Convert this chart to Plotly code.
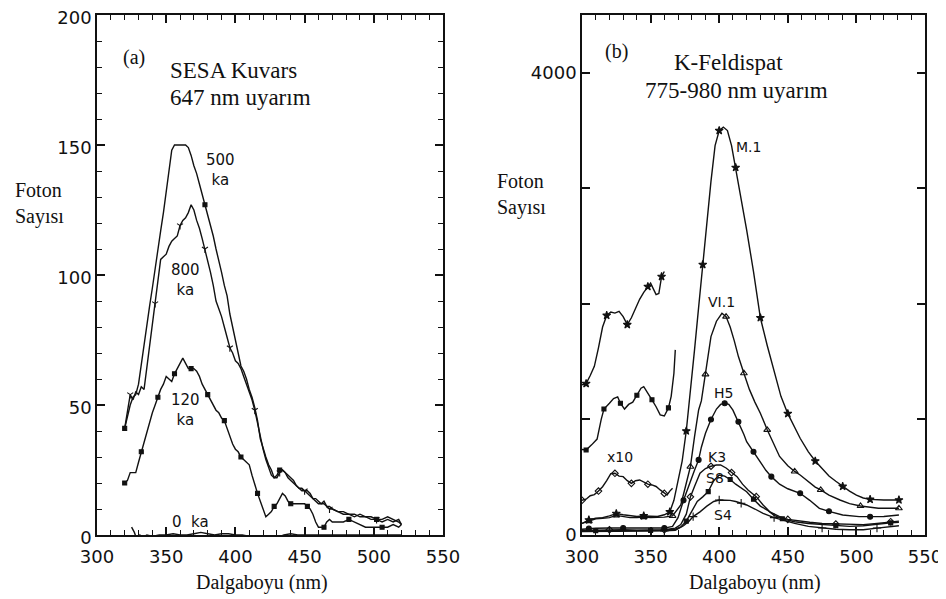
import plotly.graph_objects as go

# ---------------- Panel (a): SESA Kuvars ----------------
A500_X = [320, 322, 324, 326, 328, 330, 332, 334, 336, 338, 340, 342, 344, 346, 348, 350, 352, 354, 356, 360,
          364, 366, 368, 370, 372, 374, 376, 378, 380, 382, 384, 386, 388, 390, 392, 394, 396, 398, 400, 402,
          404, 406, 408, 410, 412, 414, 416, 418, 420, 422, 424, 426, 428, 430, 432, 434, 436, 438, 440, 442,
          444, 446, 448, 450, 452, 454, 456, 458, 460, 462, 464, 466, 468, 470, 474, 478, 482, 486, 490, 494,
          498, 502, 506, 510, 514, 518, 520]
A500_Y = [41, 46, 50, 53, 54, 58, 66, 74, 80, 88, 95, 103, 110, 117, 124, 132, 141, 148, 150, 150,
          150, 149, 146, 142, 139, 135, 131, 127, 124, 120, 115, 110, 106, 101, 96, 92, 85, 80, 74, 70,
          65, 63, 60, 56, 53, 49, 44, 37, 33, 30, 27, 25, 22, 23, 25, 25, 24, 23, 22, 21,
          19, 18, 18, 17, 17, 16, 14, 14, 13, 12, 12, 11, 11, 10, 9, 8, 8, 8, 7, 7,
          7, 6, 6, 7, 6, 5, 4]

A800_X = [320, 322, 324, 326, 328, 330, 332, 334, 336, 338, 340, 342, 344, 346, 348, 350, 352, 354, 356, 358,
          360, 362, 364, 366, 368, 370, 372, 374, 376, 378, 380, 382, 384, 386, 388, 390, 392, 394, 396, 398,
          400, 402, 404, 406, 408, 410, 412, 414, 416, 418, 420, 422, 424, 426, 428, 430, 432, 434, 436, 438,
          440, 442, 444, 446, 448, 450, 452, 454, 456, 458, 460, 462, 464, 466, 468, 470, 474, 478, 482, 486,
          490, 494, 498, 502, 506, 510, 514, 518, 520]
A800_Y = [41, 48, 54, 52, 55, 54, 57, 56, 64, 72, 80, 89, 98, 106, 107, 108, 111, 113, 114, 115,
          119, 121, 122, 124, 127, 125, 121, 118, 114, 110, 105, 101, 96, 90, 87, 84, 80, 76, 72, 70,
          67, 66, 64, 61, 58, 55, 52, 48, 43, 37, 33, 29, 26, 23, 22, 22, 24, 25, 24, 22,
          21, 20, 19, 18, 17, 17, 16, 15, 14, 13, 12, 12, 13, 11, 10, 10, 9, 9, 8, 7,
          8, 7, 6, 6, 5, 6, 5, 6, 4]

A120_X = [320, 322, 324, 326, 328, 330, 332, 334, 336, 338, 340, 342, 344, 346, 348, 350, 352, 354, 356, 358,
          360, 362, 364, 366, 368, 370, 372, 374, 376, 378, 380, 382, 384, 386, 388, 390, 392, 394, 396, 398,
          400, 402, 404, 406, 408, 410, 412, 414, 416, 418, 420, 422, 424, 426, 428, 430, 432, 434, 436, 438,
          440, 442, 444, 446, 448, 450, 452, 454, 456, 458, 460, 462, 464, 466, 468, 470, 474, 478, 482, 486,
          490, 494, 498, 502, 506, 510, 514, 518, 520]
A120_Y = [20, 21, 24, 24, 24, 28, 32, 36, 40, 43, 47, 50, 53, 56, 58, 61, 60, 59, 62, 64,
          66, 68, 66, 64, 64, 64, 63, 61, 58, 56, 54, 52, 50, 48, 47, 45, 44, 41, 38, 35,
          33, 32, 30, 29, 28, 27, 23, 19, 16, 13, 10, 7, 8, 9, 11, 12, 14, 16, 15, 13,
          12, 12, 12, 12, 12, 12, 11, 10, 8, 5, 3, 3, 3, 5, 6, 5, 5, 5, 6, 5,
          4, 3, 3, 3, 3, 3, 4, 3, 4]

A0_X = [325, 327, 329, 331, 333, 336, 340, 345, 350, 355, 360, 365, 370, 375, 380, 385, 390, 395, 400, 405,
        410, 415, 418, 421, 424, 427, 430, 435, 440, 445, 450, 460, 470, 480, 490, 500, 510, 520]
A0_Y = [3, 1, -2, 0, -1, 0, -0.5, 0, 0, 0.5, 0, 0, 0.5, 1, 0.5, 0, 0.5, 0.5, 0, 0,
        -0.5, -1, -2, -3.5, -3, -1.5, -1, 0, 0.5, 0, 0, 0, 0, 0, 0, 0, 0, 0]

# ---------------- Panel (b): K-Feldispat ----------------
M1_X = [300, 305, 310, 315, 320, 325, 330, 335, 340, 345, 350, 355, 360, 364, 367, 370, 373, 376, 379, 382,
        385, 388, 391, 394, 397, 400, 403, 406, 409, 412, 416, 420, 425, 430, 435, 440, 445, 450, 455, 459,
        465, 470, 475, 480, 485, 490, 495, 500, 505, 510, 515, 520, 525, 531]
M1_Y = [100, 130, 145, 150, 165, 185, 175, 165, 160, 165, 160, 160, 175, 200, 300, 470, 640, 900, 1230, 1600,
        1970, 2340, 2720, 3060, 3370, 3500, 3530, 3500, 3370, 3180, 2900, 2640, 2280, 1880, 1640, 1410, 1200, 1050, 930, 837,
        720, 640, 575, 510, 465, 420, 380, 345, 320, 308, 303, 303, 303, 303]

VI1_X = [300, 305, 310, 315, 320, 325, 330, 335, 340, 345, 350, 355, 360, 366, 369, 372, 375, 379, 382, 385,
         387, 390, 394, 398, 402, 405, 408, 411, 414, 418, 422, 426, 430, 435, 440, 444, 450, 455, 459, 465,
         470, 474, 480, 488, 495, 503, 510, 516, 523, 531]
VI1_Y = [100, 120, 140, 145, 150, 170, 160, 150, 150, 155, 150, 150, 155, 165, 210, 260, 400, 591, 850, 1082,
         1160, 1390, 1717, 1850, 1919, 1890, 1800, 1680, 1544, 1400, 1260, 1150, 1054, 910, 780, 680, 600, 550, 519, 460,
         415, 390, 345, 303, 272, 251, 238, 231, 231, 231]

H5_X = [300, 305, 310, 320, 330, 340, 350, 360, 366, 370, 374, 378, 382, 385, 387, 390, 394, 398, 401, 404,
        407, 410, 414, 418, 420, 425, 430, 434, 438, 444, 450, 459, 466, 473, 480, 490, 502, 510, 520, 531]
H5_Y = [50, 55, 58, 60, 60, 60, 58, 60, 75, 150, 300, 440, 560, 650, 760, 880, 1000, 1090, 1130, 1140,
        1130, 1080, 980, 870, 808, 720, 640, 560, 505, 440, 400, 361, 300, 231, 205, 173, 159, 158, 160, 173]

K3_X = [300, 310, 320, 330, 340, 350, 360, 368, 372, 376, 379, 382, 386, 390, 394, 398, 401, 405, 409, 413,
        417, 421, 427, 432, 437, 444, 450, 458, 466, 475, 485, 495, 505, 515, 525, 531]
K3_Y = [40, 42, 45, 45, 42, 42, 45, 60, 90, 180, 330, 420, 534, 575, 595, 606, 606, 580, 540, 505,
        440, 390, 332, 260, 200, 159, 135, 120, 110, 100, 95, 90, 90, 100, 115, 120]

S8_X = [300, 310, 320, 330, 340, 350, 360, 368, 372, 376, 380, 384, 388, 392, 396, 400, 404, 408, 412, 416,
        420, 425, 430, 435, 440, 446, 455, 465, 475, 485, 495, 505, 515, 525, 531]
S8_Y = [35, 38, 40, 40, 40, 40, 42, 50, 70, 120, 200, 290, 330, 375, 470, 519, 510, 480, 440, 410,
        375, 310, 250, 216, 170, 140, 115, 100, 90, 80, 75, 80, 95, 105, 110]

S4_X = [300, 310, 320, 330, 340, 350, 360, 368, 374, 378, 381, 386, 391, 396, 400, 404, 408, 412, 416, 420,
        426, 432, 440, 446, 455, 465, 475, 485, 495, 505, 515, 525, 531]
S4_Y = [30, 32, 35, 35, 35, 35, 36, 40, 80, 120, 159, 200, 250, 290, 303, 303, 300, 290, 275, 260,
        225, 188, 150, 130, 100, 75, 60, 50, 45, 45, 60, 75, 80]

# x10 magnified traces (short-wavelength region)
X10A_X = [300, 303, 306, 309, 312, 315, 318, 321, 324, 327, 330, 333, 336, 339, 342, 345, 348, 350, 352, 354, 356, 358, 360]
X10A_Y = [1300, 1310, 1380, 1460, 1620, 1800, 1900, 1930, 1920, 1935, 1890, 1820, 1880, 1960, 2040, 2100, 2150, 2180, 2130, 2080, 2090, 2236, 2280]
X10B_X = [300, 303, 307, 311, 314, 316, 320, 323, 326, 328, 331, 334, 337, 340, 343, 345, 348, 351, 354, 357, 360, 363, 365, 367, 368]
X10B_Y = [740, 736, 780, 830, 1000, 1090, 1140, 1180, 1195, 1140, 1090, 1130, 1150, 1210, 1270, 1284, 1230, 1170, 1110, 1040, 1030, 1100, 1200, 1400, 1602]
X10C_X = [300, 303, 306, 309, 312, 315, 318, 321, 324, 327, 330, 333, 336, 339, 342, 345, 348, 351, 354, 357, 360, 362, 364, 366]
X10C_Y = [300, 310, 340, 350, 380, 418, 470, 530, 534, 510, 505, 470, 447, 470, 476, 460, 440, 433, 420, 390, 360, 346, 380, 404]

# axis ticks
X_TICKS = [300, 350, 400, 450, 500, 550]
A_Y_TICKS = [0, 50, 100, 150, 200]
B_Y_TICKS = [0, 1000, 2000, 3000, 4000]
B_Y_TEXT = ["0", "", "", "", "4000"]

BLACK = "#111111"
# the page body has an 8px margin: the figure starts 8px in and fills the rest of the 946x599 window
OFF = 8
W, H = 946 - OFF, 599 - OFF


def px_x(X):
    return (X - OFF) / W


def px_y(Y):
    return (H - (Y - OFF)) / H


fig = go.Figure()


def curve(x, y, xa, ya, symbol, step, msize=6, start=0):
    fig.add_trace(go.Scatter(x=x, y=y, xaxis=xa, yaxis=ya, mode="lines",
                             line=dict(color=BLACK, width=1.4), showlegend=False, hoverinfo="skip"))
    if symbol:
        fig.add_trace(go.Scatter(x=x[start::step], y=y[start::step], xaxis=xa, yaxis=ya, mode="markers",
                                 marker=dict(symbol=symbol, size=msize, color=BLACK,
                                             line=dict(color=BLACK, width=1.1)),
                                 showlegend=False, hoverinfo="skip"))


# panel (a)
curve(A500_X, A500_Y, "x", "y", "square", 27, 4)
curve(A800_X, A800_Y, "x", "y", "y-down-open", 9, 5, 2)
curve(A120_X, A120_Y, "x", "y", "square", 6, 4)
curve(A0_X, A0_Y, "x", "y", None, 1)

# panel (b)
curve(M1_X, M1_Y, "x2", "y2", "star", 4, 6, 1)
curve(VI1_X, VI1_Y, "x2", "y2", "triangle-up-open", 4, 6, 1)
curve(H5_X, H5_Y, "x2", "y2", "circle", 3, 5, 1)
curve(K3_X, K3_Y, "x2", "y2", "diamond-open", 4, 5, 2)
curve(S8_X, S8_Y, "x2", "y2", "square", 4, 4, 1)
curve(S4_X, S4_Y, "x2", "y2", "cross-thin-open", 4, 6, 2)
curve(X10A_X, X10A_Y, "x2", "y2", "star", 5, 6, 1)
curve(X10B_X, X10B_Y, "x2", "y2", "square", 4, 4, 1)
curve(X10C_X, X10C_Y, "x2", "y2", "diamond-open", 4, 5, 0)

TICKFONT = dict(family="DejaVu Sans", size=18, color=BLACK)
axis_common = dict(showline=True, linecolor=BLACK, linewidth=1.5, mirror="ticks", ticks="inside",
                   tickcolor=BLACK, tickwidth=1.5, ticklen=8, showgrid=False, zeroline=False,
                   tickfont=TICKFONT, automargin=False, ticklabeloverflow="allow")
MINOR = dict(dtick=10, ticks="inside", ticklen=5, tickcolor=BLACK, tickwidth=1.2, showgrid=False)

Y_DOM = [px_y(535), px_y(15)]

fig.update_layout(
    template="none",
    width=W, height=H, autosize=False,
    margin=dict(l=0, r=0, t=0, b=0, autoexpand=False),
    paper_bgcolor="white", plot_bgcolor="white",
    xaxis=dict(domain=[px_x(97), px_x(443)], range=[300, 550], tickvals=X_TICKS, anchor="y",
               minor=dict(tick0=300, **MINOR), ticklabelstandoff=5, **axis_common),
    yaxis=dict(domain=Y_DOM, range=[0, 200], tickvals=A_Y_TICKS, anchor="x",
               minor=dict(tick0=0, **MINOR), ticklabelshift=3, **axis_common),
    xaxis2=dict(domain=[px_x(582), px_x(925)], range=[300, 550], tickvals=X_TICKS, anchor="y2",
                minor=dict(tick0=300, **MINOR), ticklabelstandoff=5, **axis_common),
    yaxis2=dict(domain=Y_DOM, range=[0, 4500], tickvals=B_Y_TICKS, ticktext=B_Y_TEXT,
                anchor="x2", **axis_common),
)

SERIF = "Liberation Serif"
SANS = "DejaVu Sans"


def note(text, x, y, xref, yref, size, family, xanchor="center", align="center"):
    fig.add_annotation(text=text, x=x, y=y, xref=xref, yref=yref, showarrow=False,
                       font=dict(family=family, size=size, color=BLACK),
                       xanchor=xanchor, yanchor="middle", align=align)


# panel (a) texts
note("(a)", 326.4, 183.8, "x", "y", 20, SERIF)
note("SESA Kuvars", 351.3, 178.8, "x", "y", 23, SERIF, "left")
note("647 nm uyarım", 351.3, 168.3, "x", "y", 23, SERIF, "left")
note("500<br>ka", 388.9, 140.4, "x", "y", 15, SANS)
note("800<br>ka", 363.6, 98, "x", "y", 15, SANS)
note("120<br>ka", 364.3, 48, "x", "y", 15, SANS)
note("0  ka", 367.2, 5.1, "x", "y", 15, SANS)
note("Foton<br>Sayısı", px_x(13), px_y(203), "paper", "paper", 20, SERIF, "left", "left")
note("Dalgaboyu (nm)", px_x(262), px_y(582), "paper", "paper", 20, SERIF)

# panel (b) texts
note("(b)", 325.5, 4182, "x2", "y2", 20, SERIF)
note("K-Feldispat", 407, 4087, "x2", "y2", 23, SERIF)
note("775-980 nm uyarım", 412.8, 3844, "x2", "y2", 23, SERIF)
note("M.1", 421, 3359, "x2", "y2", 14, SANS)
note("VI.1", 401.8, 2020, "x2", "y2", 14, SANS)
note("H5", 403, 1227, "x2", "y2", 14, SANS)
note("K3", 398.2, 678, "x2", "y2", 14, SANS)
note("S8", 397, 491, "x2", "y2", 14, SANS)
note("S4", 403, 173, "x2", "y2", 14, SANS)
note("x10", 327.7, 678, "x2", "y2", 14, SANS)
note("Foton<br>Sayısı", px_x(495), px_y(194), "paper", "paper", 20, SERIF, "left", "left")
note("Dalgaboyu (nm)", px_x(755), px_y(582), "paper", "paper", 20, SERIF)

fig.write_html("out.html")
